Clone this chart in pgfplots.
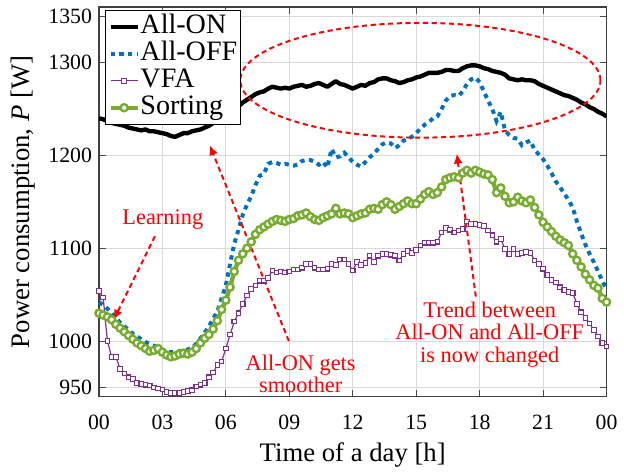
\documentclass[border=0pt]{standalone}
\usepackage{fontspec}
\setmainfont{Liberation Serif}
\usepackage{pgfplots}
\usepackage{pgfplotstable}
\pgfplotsset{compat=1.18}
\usetikzlibrary{arrows.meta}

\definecolor{offblue}{RGB}{0,114,189}
\definecolor{vfapurple}{RGB}{126,47,142}
\definecolor{sortgreen}{RGB}{119,172,48}

% time [h], All-ON, All-OFF, VFA, Sorting  [W]
\pgfplotstableread{
t on off vfa sort
0.0 1240 1042 1054 1030
0.2 1239 1039 1047 1028
0.4 1237 1035 1000 1026
0.6 1235 1030 983 1023
0.8 1234 1025 983 1018
1.0 1233 1020 970 1014
1.2 1232 1016 965 1010
1.4 1230 1012 961 1006
1.6 1229 1008 959 1002
1.8 1228 1005 955 998
2.0 1227 1002 954 995
2.2 1228 999 953 992
2.4 1226 997 952 989
2.6 1226 995 950 990
2.8 1225 993 949 992
3.0 1224 991 948 988
3.2 1223 989 945 985
3.4 1221 988 944 983
3.6 1220 988 944 984
3.8 1222 989 944 986
4.0 1224 990 945 987
4.2 1224 991 946 986
4.4 1226 993 947 988
4.6 1227 997 951 992
4.8 1228 1003 953 998
5.0 1230 1009 955 1003
5.2 1232 1016 961 1007
5.4 1235 1024 966 1013
5.6 1239 1032 974 1022
5.8 1242 1046 978 1034
6.0 1244 1060 992 1044
6.2 1247 1083 1007 1058
6.4 1249 1105 1021 1075
6.6 1253 1120 1030 1087
6.8 1257 1136 1040 1094
7.0 1260 1147 1049 1100
7.2 1263 1156 1056 1107
7.4 1266 1168 1060 1115
7.6 1268 1178 1065 1120
7.8 1269 1180 1065 1123
8.0 1272 1191 1068 1126
8.2 1274 1193 1076 1129
8.4 1273 1192 1074 1131
8.6 1272 1190 1075 1130
8.8 1273 1191 1074 1129
9.0 1272 1190 1075 1131
9.2 1274 1189 1077 1132
9.4 1275 1190 1077 1135
9.6 1276 1194 1079 1136
9.8 1274 1195 1083 1138
10.0 1275 1195 1083 1134
10.2 1277 1193 1079 1131
10.4 1278 1190 1077 1130
10.6 1276 1193 1077 1133
10.8 1274 1187 1078 1135
11.0 1277 1207 1083 1137
11.2 1280 1198 1082 1143
11.4 1277 1199 1088 1137
11.6 1276 1203 1088 1138
11.8 1274 1198 1083 1137
12.0 1272 1193 1076 1133
12.2 1274 1190 1085 1135
12.4 1276 1188 1082 1137
12.6 1275 1193 1084 1138
12.8 1278 1198 1092 1142
13.0 1279 1202 1085 1143
13.2 1282 1207 1092 1142
13.4 1283 1212 1094 1147
13.6 1283 1214 1094 1150
13.8 1281 1213 1093 1147
14.0 1280 1208 1092 1142
14.2 1278 1211 1087 1145
14.4 1279 1216 1094 1148
14.6 1281 1218 1097 1151
14.8 1282 1220 1095 1148
15.0 1284 1224 1098 1148
15.2 1285 1229 1103 1153
15.4 1287 1233 1106 1158
15.6 1289 1236 1106 1161
15.8 1289 1240 1106 1158
16.0 1289 1242 1107 1160
16.2 1290 1250 1117 1166
16.4 1292 1259 1122 1174
16.6 1292 1264 1120 1176
16.8 1291 1265 1117 1177
17.0 1291 1264 1119 1176
17.2 1294 1269 1121 1181
17.4 1296 1277 1129 1184
17.6 1297 1282 1126 1181
17.8 1297 1284 1126 1184
18.0 1296 1279 1125 1182
18.2 1294 1269 1124 1180
18.4 1293 1259 1119 1179
18.6 1291 1250 1114 1174
18.8 1290 1237 1107 1160
19.0 1289 1247 1110 1165
19.2 1287 1227 1099 1156
19.4 1283 1222 1094 1149
19.6 1282 1219 1099 1150
19.8 1281 1218 1094 1155
20.0 1282 1211 1095 1151
20.2 1281 1214 1096 1149
20.4 1281 1216 1095 1152
20.6 1280 1206 1087 1144
20.8 1277 1201 1083 1136
21.0 1275 1196 1078 1128
21.2 1273 1189 1071 1123
21.4 1271 1181 1066 1118
21.6 1269 1172 1063 1113
21.8 1267 1166 1058 1109
22.0 1265 1159 1055 1106
22.2 1264 1152 1053 1103
22.4 1262 1144 1052 1094
22.6 1260 1129 1040 1087
22.8 1257 1116 1031 1080
23.0 1255 1104 1025 1072
23.2 1252 1094 1019 1066
23.4 1250 1085 1012 1060
23.6 1247 1075 1005 1057
23.8 1245 1065 998 1046
24.0 1242 1056 994 1042
}\powertab

\tikzset{annot/.style={red, line width=1pt, dash pattern=on 2.6pt off 1.8pt}}

\begin{document}
\begin{tikzpicture}
\begin{axis}[
  scale only axis,
  width=256.5pt, height=197pt,
  xmin=0, xmax=24, ymin=940, ymax=1360,
  xtick={0,3,...,24},
  xticklabels={00,03,06,09,12,15,18,21,00},
  ytick={950,1000,1100,1200,1300,1350},
  grid=major,
  major grid style={gray!30, line width=0.5pt},
  axis line style={black!75, line width=0.6pt},
  tick style={black!70, line width=0.5pt},
  major tick length=3.5pt,
  tick label style={font=\fontsize{11}{12}\selectfont},
  xticklabel style={yshift=-5.5pt},
  /pgf/number format/assume math mode=true,
  /pgf/number format/1000 sep={},
  label style={font=\fontsize{13.5}{15}\selectfont},
  xlabel={Time of a day [h]},
  ylabel={Power consumption, \textit{P} [W]},
  legend style={at={(0.012,0.992)}, anchor=north west, draw=black,
    line width=0.5pt, font=\fontsize{14.2}{14}\selectfont, inner sep=1.5pt,
    nodes={inner sep=0.3pt, text height=10pt, text depth=3pt}},
  legend cell align=left,
  legend image code/.code={\draw[mark repeat=2,mark phase=2,#1]
    plot coordinates {(0cm,0cm) (0.24cm,0cm) (0.48cm,0cm)};},
]
\addplot[black, line width=2.2pt, line join=round] table[x=t,y=on]{\powertab};
\addplot[offblue, line width=2pt, dash pattern=on 2.2pt off 2.2pt] table[x=t,y=off]{\powertab};
\addplot[vfapurple, line width=0.6pt, mark=square*, mark size=1.15pt,
  mark options={fill=white, solid, line width=0.55pt}] table[x=t,y=vfa]{\powertab};
\addplot[sortgreen, line width=2.2pt, mark=*, mark size=1.8pt,
  mark options={fill=white, solid, line width=1.2pt}] table[x=t,y=sort]{\powertab};
\legend{All-ON, All-OFF, VFA, Sorting}

\node[red, font=\fontsize{11.3}{11.5}\selectfont] at (axis cs:3.02,1131) {Learning};
\draw[annot, -{Latex[length=5pt,width=4.5pt]}] (axis cs:2.65,1113) -- (axis cs:0.7,1023);
\node[red, align=center, font=\fontsize{11.3}{11}\selectfont] at (axis cs:9.54,965) {All-ON gets\\smoother};
\draw[annot, -{Latex[length=5pt,width=4.5pt]}] (axis cs:8.98,1000) -- (axis cs:5.24,1211);
\node[red, align=center, font=\fontsize{11.3}{11.3}\selectfont] at (axis cs:18.48,1007) {Trend between\\All-ON and All-OFF\\is now changed};
\draw[annot, -{Latex[length=5pt,width=4.5pt]}] (axis cs:17.82,1048) -- (axis cs:16.92,1202);
\draw[annot] (axis cs:15.2,1281) ellipse [x radius=91pt, y radius=29pt];
\end{axis}
\path ([shift={(-50pt,-35.5pt)}]current axis.south west) rectangle ([shift={(5.5pt,3.5pt)}]current axis.north east);
\end{tikzpicture}
\end{document}
